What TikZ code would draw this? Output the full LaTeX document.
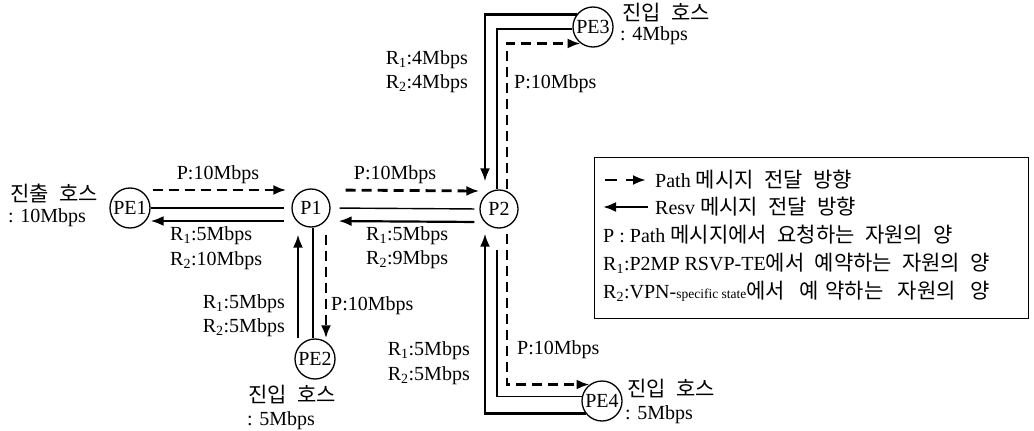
\documentclass[tikz,border=0pt]{standalone}
\usepackage{fontspec}
\setmainfont{Liberation Serif}
\newfontfamily\kr[WordSpace=2.2]{Noto Sans CJK KR}
\usetikzlibrary{arrows.meta,calc}
\begin{document}
\begin{tikzpicture}[x=1pt,y=-1pt,
  every node/.style={font=\fontsize{20}{22}\selectfont, inner sep=0pt},
  router/.style={draw, circle, line width=1.3pt, minimum size=40pt, inner sep=0pt},
  pathmsg/.style={line width=2.8pt, dash pattern=on 10pt off 6pt, -{Latex[length=13pt,width=10pt]}},
  resvmsg/.style={line width=2.2pt, -{Latex[length=13pt,width=10pt]}},
  plainln/.style={line width=1.4pt},
  lbl/.style={anchor=west},
  rlbl/.style={anchor=east},
  krt/.style={font=\kr\fontsize{21}{23}\selectfont},
]
\useasboundingbox (0,0) rectangle (1034,431);

% routers
\node[router] (PE1) at (130,208) {PE1};
\node[router, minimum size=38pt] (P1) at (311,208) {P1};
\node[router, minimum size=38pt] (P2) at (499,209) {P2};
\node[router] (PE2) at (315,359) {PE2};
\node[router] (PE3) at (593,27) {PE3};
\node[router] (PE4) at (602,401) {PE4};

% PE1 -- P1
\draw[pathmsg, shorten <=2pt, shorten >=5pt] ([yshift=18pt]PE1.east) -- ([yshift=18pt]P1.west);
\draw[plainln, shorten >=7pt] (PE1.east) -- (P1.west);
\draw[resvmsg, shorten <=7pt] ([yshift=-13pt]P1.west) -- ([yshift=-13pt]PE1.east);

% P1 -- P2
\draw[pathmsg, shorten <=15pt] ([yshift=18pt]P1.east) -- ([yshift=18pt]P2.west);
\draw[plainln, shorten <=9pt, shorten >=5pt] (P1.east) -- (P2.west);
\draw[resvmsg, shorten <=5pt, shorten >=8pt] ([yshift=-13pt]P2.west) -- ([yshift=-13pt]P1.east);

% P1 -- PE2
\draw[resvmsg, shorten >=7pt] ([xshift=-13pt]P1.south |- PE2.north) -- ([xshift=-13pt]P1.south);
\draw[plainln] ([xshift=2pt]P1.south) -- ([xshift=2pt]P1.south |- PE2.north);
\draw[pathmsg, shorten <=7pt] ([xshift=15pt]P1.south) -- ([xshift=15pt]P1.south |- PE2.north);

% P2 -- PE3
\draw[resvmsg, shorten >=8pt] (PE3.143) -| ([xshift=-14pt]P2.north);
\draw[plainln] (PE3.186) -| ([xshift=-2pt]P2.north);
\draw[pathmsg] ([xshift=8pt]P2.north) |- (PE3.233);

% P2 -- PE4
\coordinate (m4end) at (497,250);
\draw[resvmsg, shorten >=5pt] (PE4.217) -| ([xshift=-14pt]P2.south);
\draw[plainln] (PE4.168) -| (m4end);
\draw[pathmsg, shorten <=5pt] ([xshift=8pt]P2.south) |- (PE4.127);

% labels
\node[lbl, krt] (t1) at (10,193) {진출 호스};
\node[lbl] (t2) at (8,218) {: 10Mbps};
\node (pa) at (218,175) {P:10Mbps};
\node[lbl] (r1a) at (170,236) {R\textsubscript{1}:5Mbps};
\node[lbl] (r2a) at (170,261) {R\textsubscript{2}:10Mbps};

\node (pb) at (395,175) {P:10Mbps};
\node[lbl] (r1b) at (366,236) {R\textsubscript{1}:5Mbps};
\node[lbl] (r2b) at (366,260) {R\textsubscript{2}:9Mbps};

\node[rlbl] (r1c) at (285,304) {R\textsubscript{1}:5Mbps};
\node[rlbl] (r2c) at (285,328) {R\textsubscript{2}:5Mbps};
\node[lbl] (pc) at (331,306) {P:10Mbps};
\node[krt] (t3) at (292,395) {진입 호스};
\node[lbl] (t4) at (247,421) {: 5Mbps};

\node[rlbl] (r1d) at (468,60) {R\textsubscript{1}:4Mbps};
\node[rlbl] (r2d) at (468,84) {R\textsubscript{2}:4Mbps};
\node[lbl] (pd) at (514,84) {P:10Mbps};
\node[lbl, krt] (t5) at (622,13) {진입 호스};
\node[lbl] (t6) at (620,36) {: 4Mbps};

\node[rlbl] (r1e) at (470,351) {R\textsubscript{1}:5Mbps};
\node[rlbl] (r2e) at (470,376) {R\textsubscript{2}:5Mbps};
\node[lbl] (pe) at (517,350) {P:10Mbps};
\node[lbl, krt] (t7) at (627,389) {진입 호스};
\node[lbl] (t8) at (625,415) {: 5Mbps};

% legend
\node[draw, line width=1.4pt, anchor=north west, minimum width=434pt, minimum height=161pt] (legend) at (594,157) {};
\coordinate (la1) at (605,180);
\coordinate (la2) at (646,180);
\draw[line width=2.6pt, dash pattern=on 12pt off 9pt, -{Latex[length=13pt,width=10pt]}] (la1) -- (la2);
\node[lbl] (lg1) at (655,180) {Path {\kr\fontsize{21}{23}\selectfont 메시지 전달 방향}};
\coordinate (lb1) at (648,207);
\coordinate (lb2) at (603,207);
\draw[resvmsg] (lb1) -- (lb2);
\node[lbl] (lg2) at (655,207) {Resv {\kr\fontsize{21}{23}\selectfont 메시지 전달 방향}};
\node[lbl] (lg3) at (603,235) {P : Path {\kr\fontsize{21}{23}\selectfont 메시지에서 요청하는 자원의 양}};
\node[lbl] (lg4) at (603,263) {R\textsubscript{1}:P2MP RSVP-TE{\kr\fontsize{21}{23}\selectfont 에서 예약하는 자원의 양}};
\node[lbl] (lg5) at (603,291) {R\textsubscript{2}:VPN-{\fontsize{13.5}{15}\selectfont specific state}{\kr\fontsize{21}{23}\selectfont 에서 \hspace{4pt}예\hspace{7pt}약하는 \hspace{4pt}자원의 \hspace{4pt}양}};
\end{tikzpicture}
\end{document}
